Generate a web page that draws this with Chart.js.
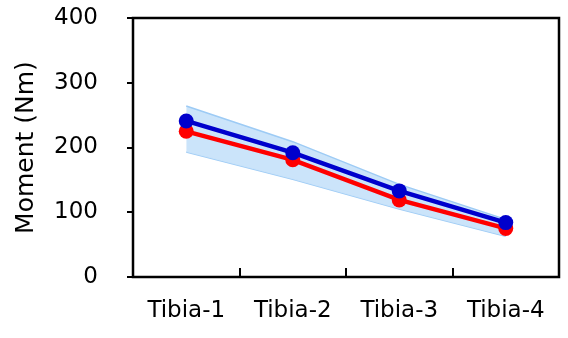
<!DOCTYPE html>
<html>
<head>
<meta charset="utf-8">
<script src="https://cdn.jsdelivr.net/npm/chart.js@4"></script>
<style>
  html, body { margin: 0; padding: 0; background: #fff; }
  #wrap { width: 568px; height: 338px; }
</style>
</head>
<body>
<div id="wrap"><canvas id="momentChart" width="568" height="338"></canvas></div>
<script>
const tibiaLabels = ['Tibia-1', 'Tibia-2', 'Tibia-3', 'Tibia-4'];
const yTicks = [0, 100, 200, 300, 400];
const momentBlue = [241, 192, 133, 84];
const momentRed = [225, 181, 119, 75];
const bandUpper = [264, 209, 143, 89];
const bandLower = [193, 151, 105, 63];

const fontName = "'DejaVu Sans', Verdana, sans-serif";

// box round the plot area and the small inward ticks on the x axis
const framePlugin = {
  id: 'frame',
  afterDraw(chart) {
    const ctx = chart.ctx;
    const a = chart.chartArea;
    const xs = chart.scales.x;
    ctx.save();
    ctx.strokeStyle = '#000';
    ctx.lineWidth = 2.5;
    ctx.strokeRect(a.left, a.top, a.right - a.left, a.bottom - a.top);
    ctx.lineWidth = 2;
    for (let i = 1; i < tibiaLabels.length; i++) {
      const x = Math.round((xs.getPixelForTick(i - 1) + xs.getPixelForTick(i)) / 2);
      ctx.beginPath();
      ctx.moveTo(x, a.bottom);
      ctx.lineTo(x, a.bottom - 9);
      ctx.stroke();
    }
    ctx.restore();
  }
};

new Chart(document.getElementById('momentChart').getContext('2d'), {
  type: 'line',
  data: {
    labels: tibiaLabels,
    datasets: [
      {
        data: momentBlue,
        borderColor: '#0000CC',
        backgroundColor: '#0000CC',
        borderWidth: 4.5,
        pointRadius: 7.5,
        pointBorderWidth: 0,
        tension: 0,
        fill: false
      },
      {
        data: momentRed,
        borderColor: '#FF0000',
        backgroundColor: '#FF0000',
        borderWidth: 4.5,
        pointRadius: 7.5,
        pointBorderWidth: 0,
        tension: 0,
        fill: false
      },
      {
        data: bandUpper,
        borderColor: '#9DCBF5',
        backgroundColor: 'rgba(200, 227, 250, 0.95)',
        borderWidth: 1.5,
        pointRadius: 0,
        tension: 0,
        fill: '+1'
      },
      {
        data: bandLower,
        borderColor: '#9DCBF5',
        borderWidth: 1.5,
        pointRadius: 0,
        tension: 0,
        fill: false
      }
    ]
  },
  options: {
    responsive: false,
    animation: false,
    layout: { padding: { top: 18, right: 9, left: 0, bottom: 0 } },
    plugins: {
      legend: { display: false },
      tooltip: { enabled: false }
    },
    scales: {
      x: {
        offset: true,
        grid: { display: false },
        border: { display: false },
        ticks: {
          color: '#000',
          padding: 12,
          maxRotation: 0,
          font: { family: fontName, size: 23 }
        },
        afterFit(scale) {
          scale.height = 61;
          scale.paddingLeft = 0;
          scale.paddingRight = 0;
        }
      },
      y: {
        min: 0,
        max: 400,
        afterBuildTicks(scale) { scale.ticks = yTicks.map(v => ({ value: v })); },
        grid: {
          drawOnChartArea: false,
          drawTicks: true,
          tickLength: 6,
          color: '#000',
          lineWidth: 2
        },
        border: { display: false },
        ticks: {
          color: '#000',
          padding: 29,
          font: { family: fontName, size: 23 }
        },
        title: {
          display: true,
          text: 'Moment (Nm)',
          color: '#000',
          padding: { top: 11, bottom: 0 },
          font: { family: fontName, size: 25 }
        },
        afterFit(scale) {
          scale.width = 133;
          scale.paddingTop = 0;
          scale.paddingBottom = 0;
        }
      }
    }
  },
  plugins: [framePlugin]
});
</script>
</body>
</html>
